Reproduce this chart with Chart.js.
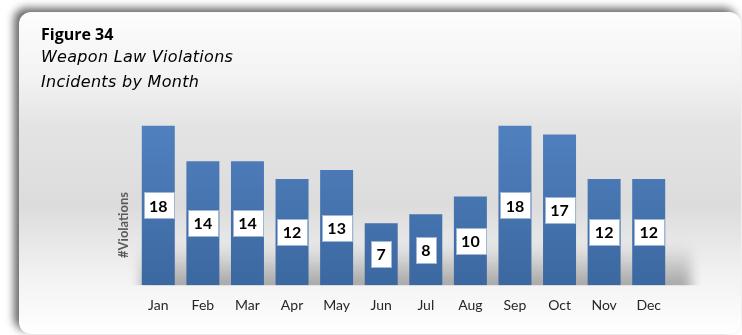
<!DOCTYPE html>
<html>
<head>
<meta charset="utf-8">
<script src="https://cdn.jsdelivr.net/npm/chart.js@4.4.1/dist/chart.umd.min.js"></script>
<style>
    html, body { margin: 0; padding: 0; background: #ffffff; }
    #wrap { position: relative; width: 742px; height: 335px; }
</style>
</head>
<body>
<div id="wrap">
    <canvas id="GraficoViolacoes" width="742" height="335"></canvas>
</div>
<script>
const meses = ['Jan', 'Feb', 'Mar', 'Apr', 'May', 'Jun', 'Jul', 'Aug', 'Sep', 'Oct', 'Nov', 'Dec'];
const violacoes = [18, 14, 14, 12, 13, 7, 8, 10, 18, 17, 12, 12];
const titulo = ['Figure 34', 'Weapon Law Violations', 'Incidents by Month'];
const tituloEixo = '#Violations';

const fonte = 'Lato, "Open Sans", sans-serif';
const fonteTitulo = '"Open Sans", Lato, sans-serif';
const fonteSubtitulo = '"DejaVu Sans", "Open Sans", sans-serif';

// painel com sombra e gradiente atrás do gráfico
const fundoPlugin = {
    id: 'fundo',
    beforeDraw(chart) {
        const ctx = chart.ctx;
        const area = chart.chartArea;
        ctx.save();
        ctx.shadowColor = 'rgba(0,0,0,0.6)';
        ctx.shadowBlur = 9;
        ctx.shadowOffsetX = -5;
        ctx.shadowOffsetY = -4;
        const g = ctx.createLinearGradient(0, 12, 0, 334);
        g.addColorStop(0, '#fdfdfd');
        g.addColorStop(0.2, '#f3f3f3');
        g.addColorStop(0.35, '#e4e4e4');
        g.addColorStop(0.6, '#dcdcdc');
        g.addColorStop(0.82, '#f2f2f2');
        g.addColorStop(1, '#ffffff');
        ctx.fillStyle = g;
        ctx.beginPath();
        ctx.roundRect(19, 12, 722, 322, 12);
        ctx.fill();
        ctx.restore();

        // sombra no "chão" atrás das barras
        ctx.save();
        ctx.beginPath();
        ctx.rect(area.left - 10, area.bottom - 60, area.right - area.left + 40, 60);
        ctx.clip();
        ctx.filter = 'blur(6px)';
        const s = ctx.createLinearGradient(0, area.bottom - 40, 0, area.bottom);
        s.addColorStop(0, 'rgba(0,0,0,0)');
        s.addColorStop(1, 'rgba(0,0,0,0.32)');
        ctx.fillStyle = s;
        ctx.fillRect(area.left + 5, area.bottom - 40, area.right - area.left + 15, 50);
        ctx.restore();

        // titulo
        ctx.save();
        ctx.fillStyle = '#000000';
        ctx.textBaseline = 'alphabetic';
        ctx.font = 'bold 16px ' + fonteTitulo;
        ctx.fillText(titulo[0], 41, 40);
        ctx.font = 'italic 16px ' + fonteSubtitulo;
        ctx.letterSpacing = '0.3px';
        ctx.fillText(titulo[1], 41, 62);
        ctx.fillText(titulo[2], 41, 87);
        ctx.letterSpacing = '0px';

        // titulo do eixo y
        ctx.translate(124, 225);
        ctx.rotate(-Math.PI / 2);
        ctx.font = 'bold 13px ' + fonte;
        ctx.fillStyle = '#595959';
        ctx.textAlign = 'center';
        ctx.textBaseline = 'middle';
        ctx.fillText(tituloEixo, 0, 0);
        ctx.restore();
    },
    afterDatasetsDraw(chart) {
        // caixas brancas com o valor no meio de cada barra
        const ctx = chart.ctx;
        const meta = chart.getDatasetMeta(0);
        ctx.save();
        ctx.font = 'bold 16px ' + fonte;
        ctx.textAlign = 'center';
        ctx.textBaseline = 'middle';
        meta.data.forEach((bar, i) => {
            const texto = String(violacoes[i]);
            const cy = (bar.y + bar.base) / 2;
            const w = ctx.measureText(texto).width + 11;
            const h = 26;
            ctx.fillStyle = '#ffffff';
            ctx.fillRect(Math.round(bar.x - w / 2) + 0.5, Math.round(cy - h / 2) + 0.5, Math.round(w), h);
            ctx.strokeStyle = '#9fb6d6';
            ctx.lineWidth = 1;
            ctx.strokeRect(Math.round(bar.x - w / 2) + 0.5, Math.round(cy - h / 2) + 0.5, Math.round(w), h);
            ctx.fillStyle = '#000000';
            ctx.fillText(texto, bar.x, cy + 1);
        });
        ctx.restore();
    }
};

const data = {
    labels: meses,
    datasets: [{
        label: 'Violations',
        data: violacoes,
        backgroundColor: (c) => {
            const area = c.chart.chartArea;
            if (!area) return '#4a7ab5';
            const g = c.chart.ctx.createLinearGradient(0, area.top, 0, area.bottom);
            g.addColorStop(0, '#5283c2');
            g.addColorStop(1, '#3c68a0');
            return g;
        },
        borderWidth: 0,
        barPercentage: 0.74,
        categoryPercentage: 1
    }]
};

const config = {
    type: 'bar',
    data: data,
    options: {
        responsive: false,
        animation: false,
        layout: {
            padding: { left: 136, right: 71, top: 108, bottom: 9 }
        },
        plugins: {
            legend: { display: false },
            tooltip: { enabled: false }
        },
        scales: {
            x: {
                grid: { display: false, drawTicks: false },
                border: { display: false },
                ticks: {
                    padding: 12,
                    color: '#262626',
                    font: { family: fonte, size: 14 }
                }
            },
            y: {
                display: false,
                min: 0,
                max: 20
            }
        }
    },
    plugins: [fundoPlugin]
};

const ctx = document.getElementById('GraficoViolacoes').getContext('2d');
new Chart(ctx, config);
</script>
</body>
</html>
